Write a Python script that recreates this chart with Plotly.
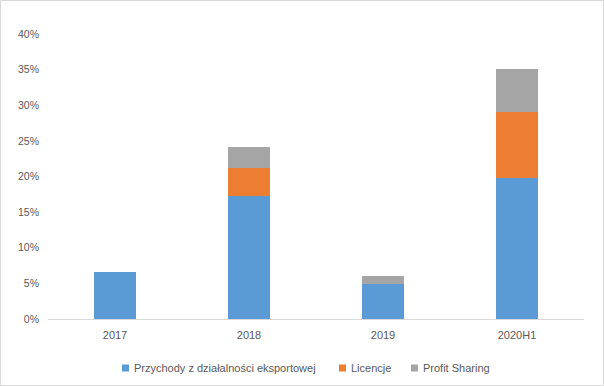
import plotly.graph_objects as go

categories = ["2017", "2018", "2019", "2020H1"]
export_rev = [0.066, 0.173, 0.0495, 0.198]
licences = [0.0, 0.039, 0.0, 0.092]
profit_sharing = [0.0, 0.030, 0.0115, 0.061]

names = ["Przychody z działalności eksportowej", "Licencje", "Profit Sharing"]
colors = ["#5B9BD5", "#ED7D31", "#A5A5A5"]

W, H = 604, 386
ml, mr, mt, mb = 48, 20, 34, 67
pw = W - ml - mr
ph = H - mt - mb


def px_x(p):
    return (p - ml) / pw


def px_y(p):
    return (H - mb - p) / ph


fig = go.Figure()
for name, vals, col in zip(names, [export_rev, licences, profit_sharing], colors):
    fig.add_trace(go.Bar(x=categories, y=vals, name=name, showlegend=False,
                         marker=dict(color=col, line=dict(width=0))))

# legend drawn as squares + text (Excel style)
legend_square_px = [122, 339, 411]
legend_y_px = 368
shapes = [dict(type="rect", xref="paper", yref="paper",
               x0=-(ml - 0.5) / pw, x1=1 + (mr - 0.5) / pw,
               y0=-(mb - 0.5) / ph, y1=1 + (mt - 0.5) / ph,
               line=dict(color="#D9D9D9", width=1), fillcolor="rgba(0,0,0,0)")]
annotations = []
for name, col, sx in zip(names, colors, legend_square_px):
    shapes.append(dict(type="rect", xref="paper", yref="paper",
                       x0=px_x(sx), x1=px_x(sx + 7),
                       y0=px_y(legend_y_px + 3.5), y1=px_y(legend_y_px - 3.5),
                       line=dict(width=0), fillcolor=col))
    annotations.append(dict(text=name, xref="paper", yref="paper",
                            x=px_x(sx + 10), y=px_y(legend_y_px),
                            xanchor="left", yanchor="middle", showarrow=False,
                            font=dict(size=11, color="#595959")))

fig.update_layout(
    barmode="stack",
    bargap=0.687,
    width=W, height=H,
    margin=dict(l=ml, r=mr, t=mt, b=mb),
    paper_bgcolor="white",
    plot_bgcolor="white",
    font=dict(family="Liberation Sans, Arial, sans-serif", size=10, color="#595959"),
    showlegend=False,
    xaxis=dict(showgrid=False, showline=True, linecolor="#D9D9D9", linewidth=1,
               ticks="", ticklabelstandoff=6, tickfont=dict(size=11, color="#595959")),
    yaxis=dict(range=[0, 0.4], dtick=0.05, tickformat=".0%", showgrid=False,
               showline=False, zeroline=False, ticks="", ticklabelstandoff=8,
               tickfont=dict(size=10.5, color="#595959")),
    shapes=shapes,
    annotations=annotations,
)

fig.write_html("out.html", config={"displayModeBar": False},
               post_script="document.body.style.margin='0';document.body.style.overflow='hidden';")
